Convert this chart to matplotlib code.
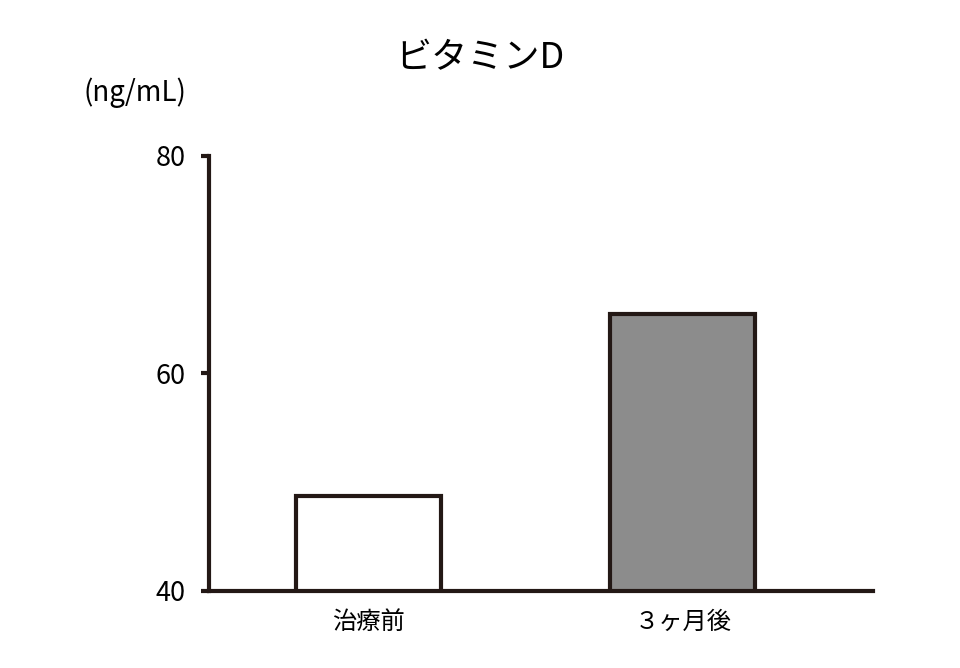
import matplotlib
matplotlib.use('Agg')
import matplotlib.pyplot as plt

plt.rcParams['font.family'] = ['Noto Sans CJK JP', 'DejaVu Sans']

# データ
categories = ['治療前', '３ヶ月後']
values = [48.7, 65.5]
colors = ['white', '#8c8c8c']
yticks = [40, 60, 80]

fig = plt.figure(figsize=(9.6, 6.68), dpi=100)
ax = fig.add_axes([0.2177, 0.1153, 0.6913, 0.6512])

ax.bar(range(len(categories)), values, width=0.461, bottom=0,
       color=colors, edgecolor='#231815', linewidth=3, zorder=3)

ax.set_ylim(40, 80)
ax.set_xlim(-0.507, 1.604)
ax.set_yticks(yticks)
ax.set_xticks(range(len(categories)))
ax.set_xticklabels(categories, fontsize=17.5)
ax.tick_params(axis='y', labelsize=19.5, width=3, length=6, color='#231815', pad=11)
ax.tick_params(axis='x', length=0, pad=13)

for s in ['top', 'right']:
    ax.spines[s].set_visible(False)
for s in ['left', 'bottom']:
    ax.spines[s].set_linewidth(3)
    ax.spines[s].set_color('#231815')
    ax.spines[s].set_zorder(4)

fig.text(0.5, 0.913, 'ビタミンD', ha='center', va='center', fontsize=26)
fig.text(0.087, 0.861, '(ng/mL)', ha='left', va='center', fontsize=20)

fig.savefig('out.png', dpi=100)
